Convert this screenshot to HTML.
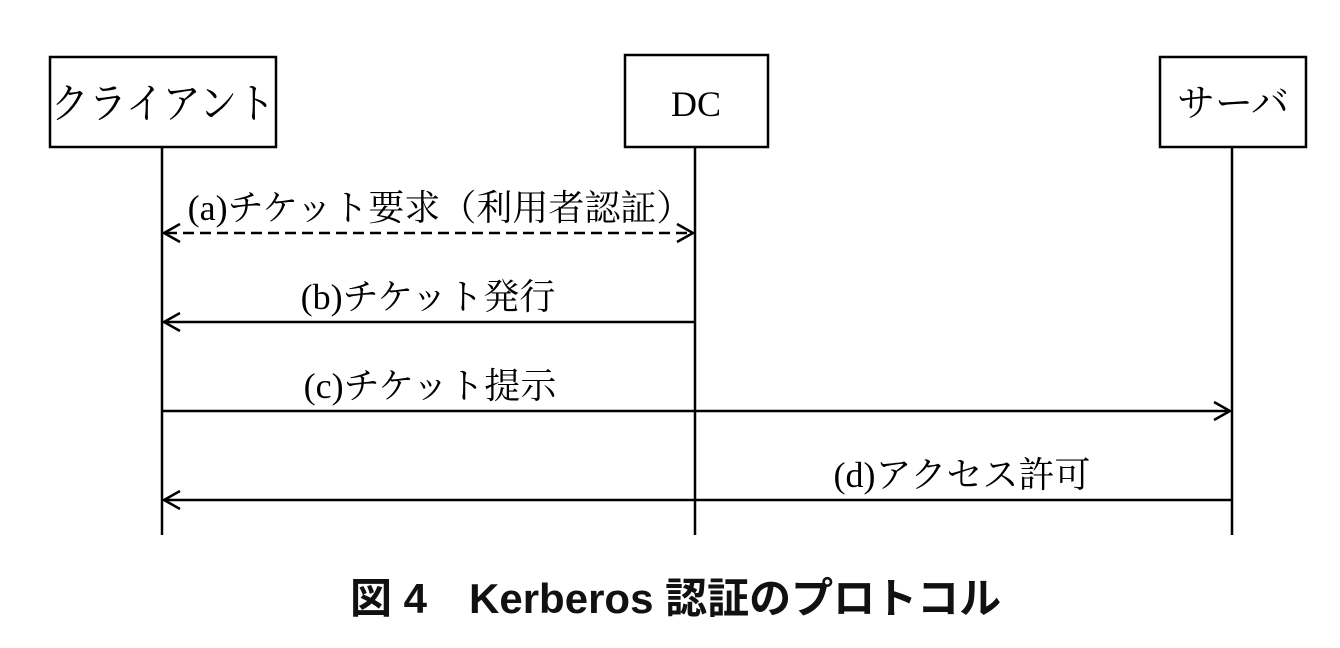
<!DOCTYPE html>
<html><head><meta charset="utf-8"><style>
html,body{margin:0;padding:0;background:#fff;}
svg{display:block;}
.t{font-family:"Liberation Serif","Noto Serif CJK SC","Noto Sans CJK JP",serif;fill:#000;}
.c{font-family:"Liberation Sans","Noto Sans CJK JP",sans-serif;font-weight:bold;fill:#111;}
</style></head><body>
<svg width="1340" height="648" viewBox="0 0 1340 648" xmlns="http://www.w3.org/2000/svg">
<g stroke="#000" stroke-width="2.5" fill="none">
<rect x="50" y="57" width="226" height="90"/>
<rect x="625" y="55" width="143" height="92"/>
<rect x="1160" y="57" width="146" height="90"/>
<line x1="162" y1="147" x2="162" y2="535"/>
<line x1="695" y1="147" x2="695" y2="535"/>
<line x1="1232" y1="147" x2="1232" y2="535"/>
<line x1="166" y1="233" x2="692" y2="233" stroke-dasharray="11,6"/>
<polyline points="180,224 164,233 180,242"/>
<polyline points="677,224 693,233 677,242"/>
<line x1="164" y1="322" x2="695" y2="322"/>
<polyline points="180,313 164,322 180,331"/>
<line x1="162" y1="411" x2="1230" y2="411"/>
<polyline points="1214,402 1230,411 1214,420"/>
<line x1="164" y1="500" x2="1232" y2="500"/>
<polyline points="180,491 164,500 180,509"/>
</g>
<text class="t" x="163" y="118" font-size="38" text-anchor="middle" transform="translate(0,-12) scale(1,1.1)">クライアント</text>
<text class="t" x="696" y="116" font-size="36" text-anchor="middle">DC</text>
<text class="t" x="1233" y="116" font-size="38" text-anchor="middle">サーバ</text>
<text class="t" x="440" y="220" font-size="36" text-anchor="middle">(a)チケット要求（利用者認証）</text>
<text class="t" x="428" y="309" font-size="36" text-anchor="middle">(b)チケット発行</text>
<text class="t" x="430" y="398" font-size="36" text-anchor="middle">(c)チケット提示</text>
<text class="t" x="962" y="487" font-size="36" text-anchor="middle">(d)アクセス許可</text>
<text class="c" x="350" y="613" font-size="42">図 4　Kerberos 認証のプロトコル</text>
</svg>
</body></html>
